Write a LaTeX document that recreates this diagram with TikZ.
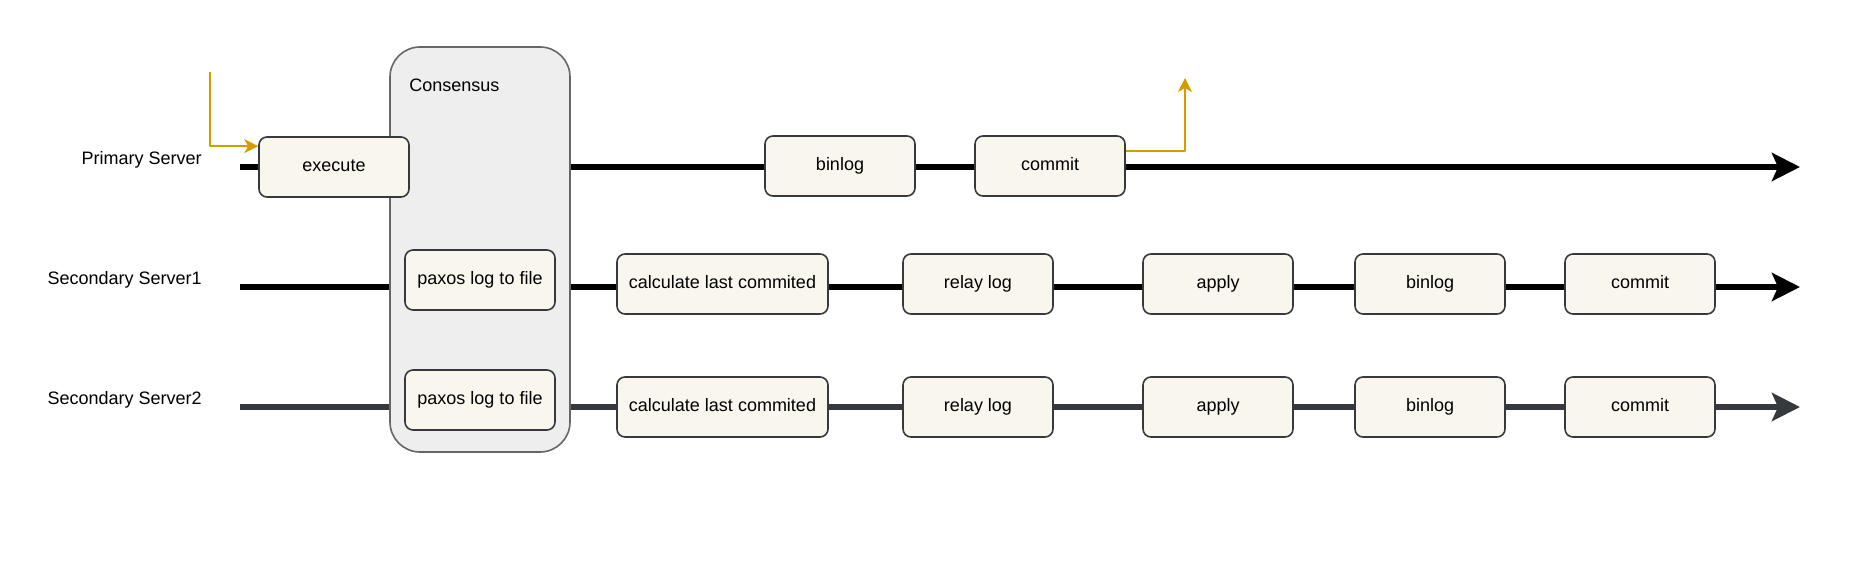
\documentclass[tikz,border=0pt]{standalone}
\usepackage{fontspec}
\setmainfont{Liberation Sans}
\usepackage{tikz}
\usetikzlibrary{arrows.meta}
\definecolor{stagefill}{HTML}{F9F7ED}
\definecolor{stageline}{HTML}{36393D}
\definecolor{consfill}{HTML}{EEEEEE}
\definecolor{consline}{HTML}{666666}
\definecolor{flowcol}{HTML}{D79B00}

\begin{document}
\begin{tikzpicture}[line join=round,>={Stealth[length=14pt,width=14pt,inset=3pt]},x=0.5pt,y=-0.5pt,
  font=\fontsize{9}{11}\selectfont,
  stage/.style={draw=stageline,fill=stagefill,line width=0.8pt,rounded corners=4pt,minimum width=75pt,minimum height=30pt,inner sep=0pt,text height=6.6pt,text depth=1.9pt},
  lane/.style={line width=3pt},
  tag/.style={inner sep=0pt},
  flow/.style={draw=flowcol,line width=0.8pt,-{Stealth[length=7pt,width=7pt,inset=2pt]}}]

\useasboundingbox (0,0) rectangle (1855,571);

\coordinate (ps0) at (240,167);
\coordinate (ps1) at (1800,167);
\coordinate (ss10) at (240,287);
\coordinate (ss11) at (1800,287);
\coordinate (ss20) at (240,407);
\coordinate (ss21) at (1800,407);
\coordinate (in0) at (210,72);
\coordinate (out0) at (1185,78);

\draw[lane,->] (ps0) -- (ps1);
\draw[lane,->] (ss10) -- (ss11);
\draw[lane,->,color=stageline] (ss20) -- (ss21);

\node[tag,anchor=east] (pslabel) at (202,160) {Primary Server};
\node[tag,anchor=east] (ss1label) at (202,280) {Secondary Server1};
\node[tag,anchor=east] (ss2label) at (202,400) {Secondary Server2};

\node[draw=consline,fill=consfill,line width=0.8pt,rounded corners=15pt,minimum width=90pt,minimum height=202.5pt] (consensus) at (480,249.5) {};
\node[tag,anchor=west] (constext) at (409,85) {Consensus};

\node[stage] (pexec) at (334,167) {execute};
\node[stage] (pbinlog) at (840,166) {binlog};
\node[stage] (pcommit) at (1050,166) {commit};

\node[stage] (s1paxos) at (480,280) {paxos log to file};
\node[stage,minimum width=105.5pt] (s1calc) at (722.5,284) {calculate last commited};
\node[stage] (s1relay) at (978,284) {relay log};
\node[stage] (s1apply) at (1218,284) {apply};
\node[stage] (s1binlog) at (1430,284) {binlog};
\node[stage] (s1commit) at (1640,284) {commit};

\node[stage] (s2paxos) at (480,400) {paxos log to file};
\node[stage,minimum width=105.5pt] (s2calc) at (722.5,407) {calculate last commited};
\node[stage] (s2relay) at (978,407) {relay log};
\node[stage] (s2apply) at (1218,407) {apply};
\node[stage] (s2binlog) at (1430,407) {binlog};
\node[stage] (s2commit) at (1640,407) {commit};

\draw[flow] (in0) |- ([yshift=-5pt]pexec.north west);
\draw[flow] ([yshift=-8pt]pcommit.north east) -| (out0);

\end{tikzpicture}
\end{document}
